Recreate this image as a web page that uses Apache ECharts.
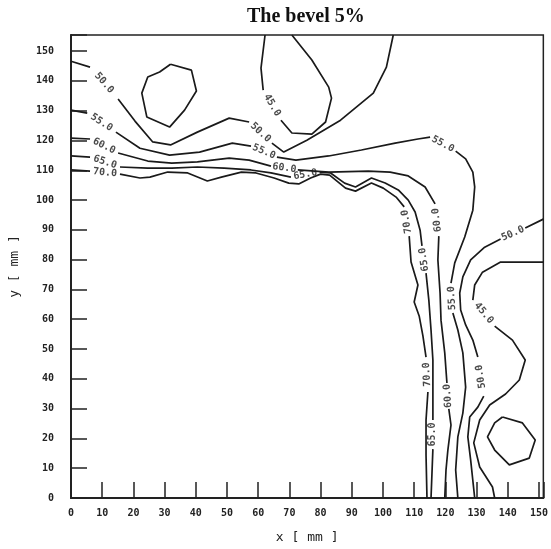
<!DOCTYPE html>
<html>
<head>
<meta charset="utf-8">
<title>The bevel 5%</title>
<script src="https://cdn.jsdelivr.net/npm/echarts@6/dist/echarts.min.js"></script>
<style>
  html, body { margin: 0; padding: 0; background: #fff; }
  #chart { width: 551px; height: 549px; }
</style>
</head>
<body>
<div id="chart"></div>
<script>
// frame runs a little past the last tick on both axes
var xMax = 151.4
var yMax = 155.4
var xTicks = [0, 10, 20, 30, 40, 50, 60, 70, 80, 90, 100, 110, 120, 130, 140, 150]
var yTicks = [0, 10, 20, 30, 40, 50, 60, 70, 80, 90, 100, 110, 120, 130, 140, 150]

// contour lines as [x, y] in mm; null = gap where the level label sits
var contour45a = [[31.9, 145.6], [38.6, 143.6], [40.2, 136.6], [36.4, 130.2], [31.6, 124.5], [24.3, 127.9],
  [22.7, 135.9], [24.6, 141.3], [28.4, 143.0], [31.9, 145.6]]
var contour45b = [[62.2, 155.4], [60.9, 144.3], [61.6, 136.9], null, [67.3, 126.8], [70.8, 122.5], [77.2, 122.1],
  [81.6, 126.2], [83.5, 134.2], [82.6, 137.9], [77.2, 147.0], [70.8, 155.4]]
var contour45c = [[151.4, 79.2], [137.7, 79.2], [131.9, 75.8], [129.4, 71.5], [128.8, 66.4], null, [135.8, 57.7],
  [141.5, 53.0], [145.6, 46.3], [143.7, 39.6], [139.3, 34.9], [134.2, 31.2], [131.0, 26.2], [129.1, 18.5],
  [131.0, 10.4], [135.1, 3.7], [135.8, 0]]
var contour45d = [[138.3, 27.2], [144.7, 25.2], [148.8, 19.5], [146.9, 13.4], [140.5, 11.1], [135.8, 16.1],
  [133.5, 20.5], [135.8, 25.2], [138.3, 27.2]]
var contour50a = [[0, 146.6], [6.1, 144.6], null, [15.1, 133.9], [20.5, 126.5], [26.2, 119.5], [31.9, 118.5],
  [40.5, 122.8], [50.7, 127.5], [57.1, 126.2], null, [64.4, 119.1], [68.2, 116.1], [75.6, 120.1], [86.4, 126.8],
  [96.9, 135.9], [101.1, 144.6], [103.3, 155.4]]
var contour50b = [[151.4, 93.6], [145.6, 90.6], null, [137.7, 86.9], [132.6, 84.2], [128.1, 79.9], [125.6, 74.2],
  [124.6, 68.8], [124.9, 63.1], [126.5, 58.1], [128.8, 53.0], [130.4, 47.3], null, [132.3, 34.2], [130.4, 30.5],
  [127.8, 27.2], [127.2, 20.5], [128.1, 12.8], [129.4, 0]]
var contour55 = [[0, 130.2], [5.2, 129.2], null, [14.4, 122.8], [22.1, 117.4], [31.6, 115.1], [41.2, 116.1],
  [51.7, 119.1], [57.7, 118.1], null, [66.0, 114.4], [72.1, 113.4], [82.6, 114.8], [93.1, 116.8], [103.9, 119.1],
  [111.2, 120.5], [115.1, 121.1], null, [123.3, 116.4], [126.5, 113.8], [128.8, 109.4], [129.4, 104.4],
  [128.8, 96.6], [126.2, 87.6], [123.0, 78.9], [121.8, 72.1], null, [122.4, 62.1], [124.0, 56.4], [125.6, 48.7],
  [126.5, 37.2], [125.6, 28.5], [124.0, 20.5], [123.3, 9.4], [124.0, 0]]
var contour60 = [[0, 120.8], [6.1, 120.5], null, [15.1, 115.8], [24.6, 113.1], [32.3, 112.4], [40.5, 112.8],
  [50.7, 114.1], [57.1, 113.4], [64.1, 111.4], null, [72.7, 110.1], [82.6, 109.4], [95.3, 109.7], [102.3, 109.4],
  [108.1, 108.1], [113.5, 104.4], [116.7, 98.7], null, [117.9, 87.9], [117.6, 79.9], [118.3, 68.8], [118.6, 59.7],
  [119.8, 48.7], [120.5, 38.6], null, [121.1, 29.9], [121.8, 24.5], [120.8, 16.1], [120.2, 9.4], [119.8, 0]]
var contour65 = [[0, 114.8], [6.1, 114.4], null, [15.7, 111.1], [24.6, 110.7], [32.3, 110.7], [40.5, 111.1],
  [49.1, 110.7], [57.7, 110.1], [64.1, 109.1], [70.5, 107.7], null, [79.7, 109.4], [83.2, 109.1], [87.7, 105.7],
  [91.2, 104.4], [96.3, 107.4], [100.7, 105.7], [104.9, 103.4], [108.1, 100.0], [110.3, 96.0], [111.9, 89.9],
  [112.5, 84.6], null, [113.8, 75.5], [114.7, 66.4], [115.4, 56.4], [116.0, 46.3], [116.0, 26.2], null,
  [116.0, 16.4], [115.4, 0]]
var contour70 = [[0, 110.1], [6.1, 109.7], null, [15.7, 108.7], [22.1, 107.4], [25.3, 107.7], [31.0, 109.4],
  [37.4, 109.1], [43.7, 106.4], [48.2, 107.7], [54.6, 109.4], [59.3, 109.1], [65.1, 107.4], [69.8, 105.7],
  [73.0, 105.4], [76.8, 107.4], [80.0, 108.7], [82.9, 108.4], [88.0, 104.0], [91.2, 103.0], [96.3, 105.7],
  [100.1, 104.0], [104.2, 101.0], [106.8, 97.7], null, [108.4, 87.9], [109.0, 79.2], [111.2, 71.5], [110.0, 65.8],
  [111.6, 61.1], [112.8, 54.4], [113.8, 47.3], null, [114.4, 35.6], [113.8, 26.2], [113.8, 14.4], [114.1, 0]]

var contours = [
  { level: 45, points: contour45a },
  { level: 45, points: contour45b },
  { level: 45, points: contour45c },
  { level: 45, points: contour45d },
  { level: 50, points: contour50a },
  { level: 50, points: contour50b },
  { level: 55, points: contour55 },
  { level: 60, points: contour60 },
  { level: 65, points: contour65 },
  { level: 70, points: contour70 }
]

var grid = { left: 71, right: 5, top: 35, bottom: 51 }
var pxPerX = (551 - grid.left - grid.right) / xMax
var pxPerY = (549 - grid.top - grid.bottom) / yMax
var ink = '#1a1a1a'

// level text goes in the middle of each gap, turned along the line
function gapLabels(c) {
  var out = []
  c.points.forEach(function(p, i) {
    if (p) return
    var a = c.points[i - 1]
    var b = c.points[i + 1]
    var ang = Math.atan2((b[1] - a[1]) * pxPerY, (b[0] - a[0]) * pxPerX) * 180 / Math.PI
    if (ang > 90) ang -= 180
    if (ang <= -90) ang += 180
    if (ang < -80) ang += 180
    out.push({
      name: c.level.toFixed(1),
      value: [(a[0] + b[0]) / 2, (a[1] + b[1]) / 2],
      label: { rotate: ang }
    })
  })
  return out
}

var series = contours.map(function(c) {
  return {
    type: 'line',
    data: c.points.map(function(p) { return p || ['-', '-'] }),
    showSymbol: false,
    connectNulls: false,
    lineStyle: { color: ink, width: 1.7 },
    silent: true
  }
})

var labelData = []
contours.forEach(function(c) { labelData = labelData.concat(gapLabels(c)) })
series.push({
  type: 'scatter',
  data: labelData,
  symbolSize: 0,
  silent: true,
  z: 5,
  label: {
    show: true,
    position: 'inside',
    formatter: '{b}',
    color: ink,
    fontFamily: 'DejaVu Sans Mono',
    fontWeight: 'bold',
    fontSize: 10
  }
})

var chart = echarts.init(document.getElementById('chart'))
chart.setOption({
  animation: false,
  backgroundColor: '#fff',
  title: {
    text: 'The bevel 5%',
    left: 242,
    top: 2,
    textStyle: {
      fontFamily: 'Liberation Serif',
      fontWeight: 'bold',
      fontSize: 20,
      color: '#111'
    }
  },
  grid: {
    left: grid.left,
    right: grid.right,
    top: grid.top,
    bottom: grid.bottom,
    show: true,
    borderColor: '#222',
    borderWidth: 1.5
  },
  xAxis: {
    type: 'value',
    min: 0,
    max: xMax,
    interval: 10,
    name: 'x [ mm ]',
    nameLocation: 'middle',
    nameGap: 33,
    nameTextStyle: { fontFamily: 'DejaVu Sans Mono', fontSize: 13, color: '#222' },
    axisLine: { lineStyle: { color: '#222', width: 2 } },
    axisTick: { inside: true, length: 16, lineStyle: { color: '#222', width: 1.5 } },
    axisLabel: {
      margin: 10,
      fontFamily: 'DejaVu Sans Mono',
      fontWeight: 'bold',
      fontSize: 10,
      color: '#222',
      formatter: function(v) { return xTicks.indexOf(v) >= 0 ? v : '' }
    },
    splitLine: { show: false }
  },
  yAxis: {
    type: 'value',
    min: 0,
    max: yMax,
    interval: 10,
    name: 'y [ mm ]',
    nameLocation: 'middle',
    nameRotate: 90,
    nameGap: 50,
    nameTextStyle: { fontFamily: 'DejaVu Sans Mono', fontSize: 13, color: '#222' },
    axisLine: { lineStyle: { color: '#222', width: 2 } },
    axisTick: { inside: true, length: 16, lineStyle: { color: '#222', width: 1.5 } },
    axisLabel: {
      margin: 17,
      fontFamily: 'DejaVu Sans Mono',
      fontWeight: 'bold',
      fontSize: 10,
      color: '#222',
      formatter: function(v) { return yTicks.indexOf(v) >= 0 ? v : '' }
    },
    splitLine: { show: false }
  },
  series: series
})
</script>
</body>
</html>
